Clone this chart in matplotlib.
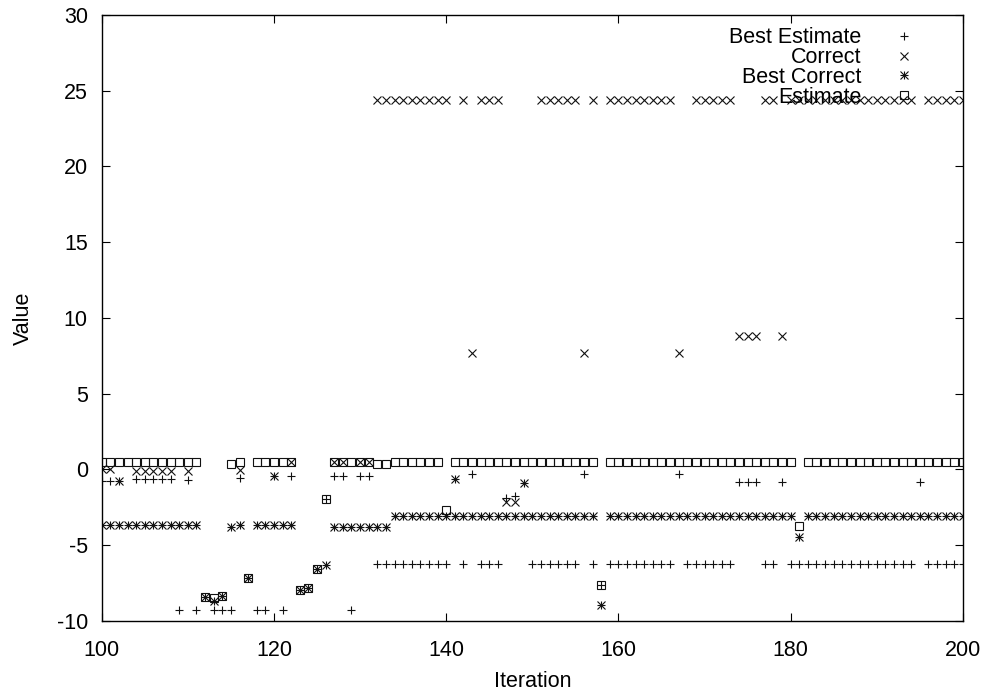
import numpy as np
import matplotlib.pyplot as plt
from matplotlib.lines import Line2D

plt.rcParams['font.family'] = ['Liberation Sans', 'DejaVu Sans']
plt.rcParams['axes.unicode_minus'] = False

# iterations 100..200
iterations = np.arange(100, 201)

best_estimate = [
    -0.76, -0.76, -0.76, None, -0.65, -0.65, -0.65, -0.65, -0.65, -9.25,   # 100-109
    -0.7, -9.25, None, -9.25, -9.25, -9.25, -0.58, None, -9.25, -9.25,     # 110-119
    -0.41, -9.25, -0.41, None, None, None, -1.95, -0.41, -0.41, -9.25,     # 120-129
    -0.41, -0.41, -6.25, -6.25, -6.25, -6.25, -6.25, -6.25, -6.25, -6.25,  # 130-139
    -6.25, -0.63, -6.25, -0.3, -6.25, -6.25, -6.25, -1.86, -1.73, -0.91,   # 140-149
    -6.25, -6.25, -6.25, -6.25, -6.25, -6.25, -0.3, -6.25, -7.6, -6.25,    # 150-159
    -6.25, -6.25, -6.25, -6.25, -6.25, -6.25, -6.25, -0.3, -6.25, -6.25,   # 160-169
    -6.25, -6.25, -6.25, -6.25, -0.8, -0.8, -0.8, -6.25, -6.25, -0.8,      # 170-179
    -6.25, -6.25, -6.25, -6.25, -6.25, -6.25, -6.25, -6.25, -6.25, -6.25,  # 180-189
    -6.25, -6.25, -6.25, -6.25, -6.25, -0.8, -6.25, -6.25, -6.25, -6.25,   # 190-199
    -6.25,                                                                 # 200
]

correct = [
    0.0, 0.0, -0.76, None, -0.1, -0.1, -0.1, -0.1, -0.1, None,             # 100-109
    -0.1, None, None, None, None, None, -0.03, None, None, None,           # 110-119
    -0.41, None, 0.5, None, None, None, None, 0.5, 0.5, None,              # 120-129
    0.5, 0.5, 24.4, 24.4, 24.4, 24.4, 24.4, 24.4, 24.4, 24.4,              # 130-139
    24.4, -0.63, 24.4, 7.67, 24.4, 24.4, 24.4, -2.17, -2.17, -0.91,        # 140-149
    None, 24.4, 24.4, 24.4, 24.4, 24.4, 7.67, 24.4, None, 24.4,            # 150-159
    24.4, 24.4, 24.4, 24.4, 24.4, 24.4, 24.4, 7.67, None, 24.4,            # 160-169
    24.4, 24.4, 24.4, 24.4, 8.83, 8.83, 8.83, 24.4, 24.4, 8.83,            # 170-179
    24.4, 24.4, 24.4, 24.4, 24.4, 24.4, 24.4, 24.4, 24.4, 24.4,            # 180-189
    24.4, 24.4, 24.4, 24.4, 24.4, None, 24.4, 24.4, 24.4, 24.4,            # 190-199
    24.4,                                                                  # 200
]

best_correct = [
    -3.66, -3.66, -3.66, -3.66, -3.66, -3.66, -3.66, -3.66, -3.66, -3.66,  # 100-109
    -3.66, -3.66, -8.4, -8.65, -8.35, -3.78, -3.66, -7.18, -3.66, -3.66,   # 110-119
    -3.66, -3.66, -3.66, -7.95, -7.84, -6.59, -6.3, -3.78, -3.78, -3.78,   # 120-129
    -3.78, -3.78, -3.78, -3.78, -3.05, -3.05, -3.05, -3.05, -3.05, -3.05,  # 130-139
    -3.05, -3.05, -3.05, -3.05, -3.05, -3.05, -3.05, -3.05, -3.05, -3.05,  # 140-149
    -3.05, -3.05, -3.05, -3.05, -3.05, -3.05, -3.05, -3.05, -8.95, -3.05,  # 150-159
    -3.05, -3.05, -3.05, -3.05, -3.05, -3.05, -3.05, -3.05, -3.05, -3.05,  # 160-169
    -3.05, -3.05, -3.05, -3.05, -3.05, -3.05, -3.05, -3.05, -3.05, -3.05,  # 170-179
    -3.05, -4.43, -3.05, -3.05, -3.05, -3.05, -3.05, -3.05, -3.05, -3.05,  # 180-189
    -3.05, -3.05, -3.05, -3.05, -3.05, -3.05, -3.05, -3.05, -3.05, -3.05,  # 190-199
    -3.05,                                                                 # 200
]

estimate = [
    0.5, 0.5, 0.5, 0.5, 0.5, 0.5, 0.5, 0.5, 0.5, 0.5,                      # 100-109
    0.5, 0.5, -8.4, -8.5, -8.35, 0.38, 0.5, -7.18, 0.5, 0.5,               # 110-119
    0.5, 0.5, 0.5, -7.95, -7.84, -6.59, -1.95, 0.5, 0.5, 0.5,              # 120-129
    0.5, 0.5, 0.38, 0.38, 0.5, 0.5, 0.5, 0.5, 0.5, 0.5,                    # 130-139
    -2.67, 0.5, 0.5, 0.5, 0.5, 0.5, 0.5, 0.5, 0.5, 0.5,                    # 140-149
    0.5, 0.5, 0.5, 0.5, 0.5, 0.5, 0.5, 0.5, -7.6, 0.5,                     # 150-159
    0.5, 0.5, 0.5, 0.5, 0.5, 0.5, 0.5, 0.5, 0.5, 0.5,                      # 160-169
    0.5, 0.5, 0.5, 0.5, 0.5, 0.5, 0.5, 0.5, 0.5, 0.5,                      # 170-179
    0.5, -3.73, 0.5, 0.5, 0.5, 0.5, 0.5, 0.5, 0.5, 0.5,                    # 180-189
    0.5, 0.5, 0.5, 0.5, 0.5, 0.5, 0.5, 0.5, 0.5, 0.5,                      # 190-199
    0.5,                                                                   # 200
]

be = np.array(best_estimate, dtype=float)
co = np.array(correct, dtype=float)
bc = np.array(best_correct, dtype=float)
es = np.array(estimate, dtype=float)

INK = '#111111'
MS = 6.3
MEW = 0.8

fig = plt.figure(figsize=(9.83, 6.91), dpi=100)
ax = fig.add_axes([0.1035, 0.1013, 0.876, 0.877])

kw = dict(linestyle='none', color=INK, markersize=MS, markeredgewidth=MEW)
h1, = ax.plot(iterations, be, marker='+', **kw)
h2, = ax.plot(iterations, co, marker='x', **kw)
# gnuplot style asterisk: plus and cross on top of each other
h3a, = ax.plot(iterations, bc, marker='+', **kw)
h3b, = ax.plot(iterations, bc, marker='x', **kw)
h4, = ax.plot(iterations, es, marker='s', markerfacecolor='none', **kw)

ax.set_xlim(100, 200)
ax.set_ylim(-10, 30)
ax.set_xticks([100, 120, 140, 160, 180, 200])
ax.set_yticks(np.arange(-10, 31, 5))
ax.tick_params(direction='in', length=5.8, width=0.8, top=True, right=True,
               labelsize=15.5, colors='black')
ax.tick_params(axis='x', pad=14)
ax.tick_params(axis='y', pad=10)
for s in ax.spines.values():
    s.set_linewidth(1.0)

ax.set_xlabel('Iteration', fontsize=15.5, labelpad=7)
ax.set_ylabel('Value', fontsize=15.5, labelpad=16)

ax.legend([h1, h2, (h3a, h3b), h4],
          ['Best Estimate', 'Correct', 'Best Correct', 'Estimate'],
          loc='upper right', bbox_to_anchor=(0.957, 0.98), frameon=False,
          markerfirst=False, fontsize=15.5, handlelength=2.0, handletextpad=1.0,
          labelspacing=-0.05, borderpad=0, borderaxespad=0, alignment='right')

fig.savefig('out.png', dpi=100)
